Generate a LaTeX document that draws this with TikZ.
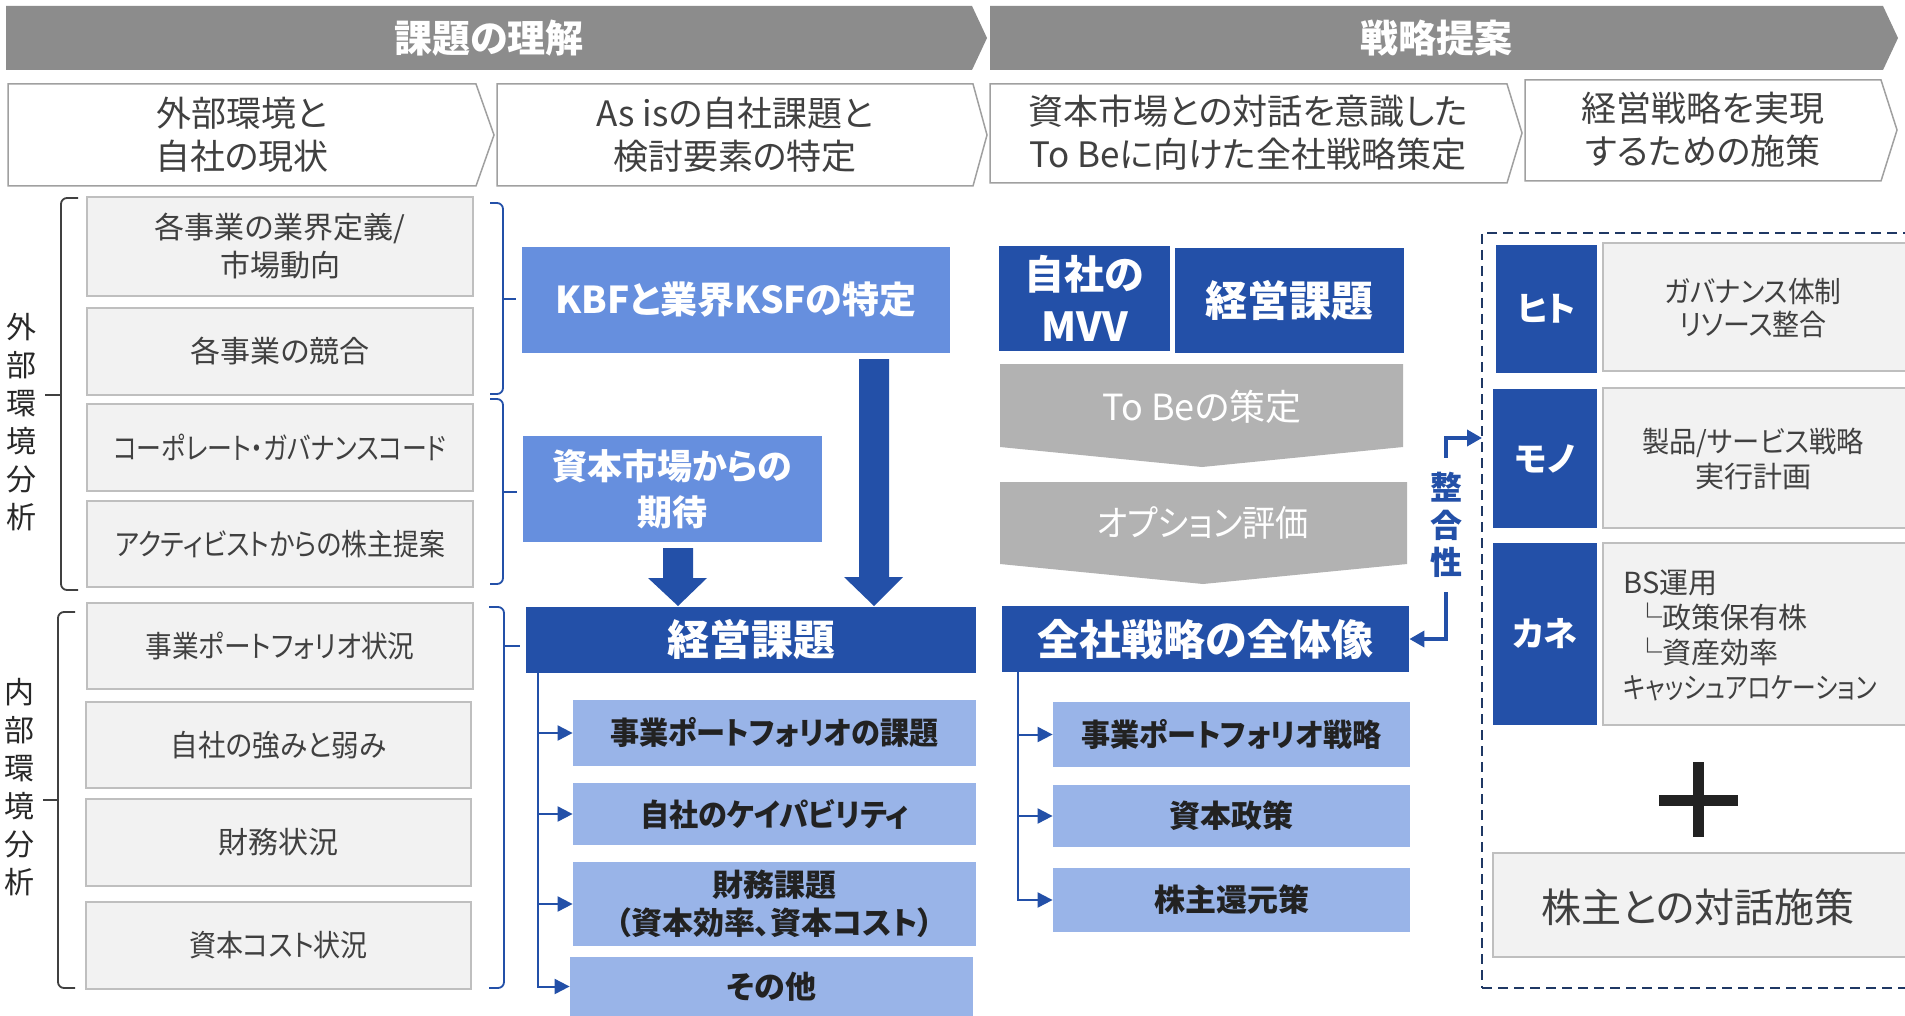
\documentclass[tikz,border=0pt]{standalone}
\usepackage{fontspec}
\setmainfont{Noto Sans CJK JP}[RawFeature=+palt]
\usetikzlibrary{arrows.meta,fit,calc}
\definecolor{dblue}{RGB}{35,80,168}
\definecolor{mblue}{RGB}{102,143,222}
\definecolor{lblue}{RGB}{153,180,232}
\definecolor{bannergray}{RGB}{140,140,140}
\definecolor{chevgray}{RGB}{178,178,178}
\definecolor{chevline}{RGB}{160,160,160}
\definecolor{boxfill}{RGB}{242,242,242}
\definecolor{boxline}{RGB}{191,191,191}
\definecolor{txt}{RGB}{64,64,64}
\definecolor{labtxt}{RGB}{40,40,40}
\definecolor{darktxt}{RGB}{34,34,34}
\definecolor{navy}{RGB}{31,56,100}
\newcommand\sqz[2]{\scalebox{#1}[1]{#2}}
\begin{document}
\begin{tikzpicture}[x=0.5pt,y=-0.5pt,
  rect/.style args={#1/#2/#3/#4}{at={({(#1+#3)/2},{(#2+#4)/2})}, minimum width={(#3-#1)*0.5pt}, minimum height={(#4-#2)*0.5pt}},
  graybox/.style={draw=boxline, fill=boxfill, line width=0.75pt, text=txt, inner sep=0pt, align=center, font=\fontsize{15}{19}\selectfont},
  dbox/.style={fill=dblue, text=white, inner sep=0pt, align=center, font=\bfseries\fontsize{21}{26}\selectfont},
  mbox/.style={fill=mblue, text=white, inner sep=0pt, align=center, font=\bfseries\fontsize{18.5}{23}\selectfont},
  lbox/.style={fill=lblue, text=darktxt, inner sep=0pt, align=center, font=\bfseries\fontsize{15.5}{19}\selectfont},
  hdr/.style={text=txt, align=center, inner sep=0pt, font=\fontsize{17.5}{21.5}\selectfont},
  bantext/.style={text=white, inner sep=0pt, font=\bfseries\fontsize{19}{22}\selectfont},
  chev/.style={draw=chevline, fill=white, line width=0.75pt},
  chevtext/.style={text=white, inner sep=0pt, font=\fontsize{18}{22}\selectfont},
  vlabel/.style={text=labtxt, align=center, inner sep=0pt, font=\fontsize{15}{19}\selectfont},
  rtext/.style={text=txt, align=center, inner sep=0pt, font=\fontsize{14.5}{16.5}\selectfont},
  branch/.style={draw=dblue, line width=1pt, -{Triangle[length=7.5pt,width=7.5pt]}},
  elbow/.style={draw=dblue, line width=1.75pt, -{Triangle[length=7.5pt,width=8pt]}},
  brkgray/.style={draw=txt, line width=0.9pt, rounded corners=3pt},
  brkblue/.style={draw=dblue, line width=0.9pt, rounded corners=3pt},
]
\useasboundingbox (0,0) rectangle (1905,1016);
\clip (0,0) rectangle (1905,1016);
\fill[white] (0,0) rectangle (1905,1016);

% ---- top banners
\fill[bannergray] (6,6) -- (972,6) -- (987,38) -- (972,70) -- (6,70) -- cycle;
\node[bantext] (ban1) at (489,38) {課題の理解};
\fill[bannergray] (990,6) -- (1883,6) -- (1898,38) -- (1883,70) -- (990,70) -- cycle;
\node[bantext] (ban2) at (1436,38) {戦略提案};

% ---- step headers
\draw[chev] (8,84) -- (476,84) -- (494,135) -- (476,186) -- (8,186) -- cycle;
\node[hdr] (h1) at (242,135) {外部環境と\\自社の現状};
\draw[chev] (497,84) -- (973,84) -- (987,135) -- (973,186) -- (497,186) -- cycle;
\node[hdr] (h2) at (735,135) {As isの自社課題と\\検討要素の特定};
\draw[chev] (990,84) -- (1507,84) -- (1522,133) -- (1507,183) -- (990,183) -- cycle;
\node[hdr] (h3) at (1248,133) {資本市場との対話を意識した\\To Beに向けた全社戦略策定};
\draw[chev] (1525,80) -- (1881,80) -- (1897,130) -- (1881,181) -- (1525,181) -- cycle;
\node[hdr] (h4) at (1703,130) {経営戦略を実現\\するための施策};

% ---- left column
\draw[brkgray] (78,198) -- (61,198) -- (61,590) -- (78,590);
\draw[draw=txt, line width=0.9pt] (45,395) -- (61,395);
\node[vlabel] (ext) at (21,422) {外\\部\\環\\境\\分\\析};
\draw[brkgray] (75,612) -- (58,612) -- (58,988) -- (75,988);
\draw[draw=txt, line width=0.9pt] (43,800) -- (58,800);
\node[vlabel] (int) at (19,787) {内\\部\\環\\境\\分\\析};

\node[graybox, rect=87/197/473/296] (g1) {各事業の業界定義/\\市場動向};
\node[graybox, rect=87/308/473/395] (g2) {各事業の競合};
\node[graybox, rect=87/404/473/491] (g3) {\sqz{0.83}{コーポレート・ガバナンスコード}};
\node[graybox, rect=87/501/473/587] (g4) {\sqz{0.86}{アクティビストからの株主提案}};
\node[graybox, rect=87/603/473/689] (g5) {\sqz{0.89}{事業ポートフォリオ状況}};
\node[graybox, rect=86/702/471/788] (g6) {\sqz{0.92}{自社の強みと弱み}};
\node[graybox, rect=86/799/471/886] (g7) {財務状況};
\node[graybox, rect=86/902/471/989] (g8) {\sqz{0.9}{資本コスト状況}};

% blue brackets
\draw[brkblue] (490,203) -- (503,203) -- (503,394) -- (490,394);
\draw[draw=dblue, line width=0.9pt] (503,299) -- (516,299);
\draw[brkblue] (490,399) -- (503,399) -- (503,584) -- (490,584);
\draw[draw=dblue, line width=0.9pt] (503,492) -- (517,492);
\draw[brkblue] (489,607) -- (504,607) -- (504,988) -- (489,988);
\draw[draw=dblue, line width=0.9pt] (504,646) -- (520,646);

% ---- middle column
\node[mbox, rect=522/247/950/353] (kbf) {KBFと業界KSFの特定};
\node[mbox, rect=523/436/822/542, font=\bfseries\fontsize{17.5}{23}\selectfont] (exp) {資本市場からの\\期待};
\fill[dblue] (663,548) -- (693,548) -- (693,578) -- (707,578) -- (678,606) -- (648,578) -- (663,578) -- cycle;
\fill[dblue] (859,359) -- (889,359) -- (889,577) -- (903,577) -- (874,606) -- (844,577) -- (859,577) -- cycle;
\node[dbox, rect=526/607/976/673] (kk1) {経営課題};
\node[lbox, rect=573/700/976/766] (b1) {\sqz{0.94}{事業ポートフォリオの課題}};
\node[lbox, rect=573/783/976/845] (b2) {\sqz{0.94}{自社のケイパビリティ}};
\node[lbox, rect=573/862/976/946] (b3) {財務課題\\（資本効率、資本コスト）};
\node[lbox, rect=570/957/973/1016] (b4) {その他};
\foreach \t in {b1,b2,b3,b4}
  \draw[branch] ([xshift=6pt]kk1.south west) |- (\t.west);

% ---- strategy column
\node[dbox, rect=999/246/1170/351, font=\bfseries\fontsize{20}{26}\selectfont] (mvv) {自社の\\MVV};
\node[dbox, rect=1175/248/1404/353] (kk2) {経営課題};
\fill[chevgray] (1000,364) -- (1403,364) -- (1403,447) -- (1202,467) -- (1000,447) -- cycle;
\node[chevtext] (tobe) at (1202,407) {To Beの策定};
\fill[chevgray] (1000,482) -- (1407,482) -- (1407,564) -- (1203,584) -- (1000,564) -- cycle;
\node[chevtext] (opt) at (1203,523) {\sqz{0.92}{オプション評価}};
\node[dbox, rect=1002/606/1409/672] (zen) {全社戦略の全体像};
\node[lbox, rect=1053/702/1410/767] (c1) {\sqz{0.94}{事業ポートフォリオ戦略}};
\node[lbox, rect=1053/785/1410/847] (c2) {資本政策};
\node[lbox, rect=1053/868/1410/932] (c3) {株主還元策};
\foreach \t in {c1,c2,c3}
  \draw[branch] ([xshift=8pt]zen.south west) |- (\t.west);

\node[text=dblue, align=center, inner sep=0pt, font=\bfseries\fontsize{16}{18.75}\selectfont] (sei) at (1446,525) {整\\合\\性};

% ---- measures column
\node[draw=navy, line width=1pt, dash pattern=on 5pt off 3pt, inner sep=0pt, fit={(1482,233) (1920,988)}] (grp) {};
\coordinate (grpin) at (1482,438);
\draw[elbow] ([yshift=7pt]sei.north) |- (grpin);
\draw[elbow] ([yshift=-7pt]sei.south) |- (zen.east);

\node[dbox, rect=1496/245/1597/373, font=\bfseries\fontsize{17}{20}\selectfont] (hito) {ヒト};
\node[graybox, rect=1603/243/1912/371] (r1) {};
\node[rtext] (r1t) at (1753,308) {\sqz{0.92}{ガバナンス体制}\\\sqz{0.93}{リソース整合}};
\node[dbox, rect=1493/389/1597/528, font=\bfseries\fontsize{17}{20}\selectfont] (mono) {モノ};
\node[graybox, rect=1603/388/1912/528] (r2) {};
\node[rtext, font=\fontsize{14.5}{17.5}\selectfont] (r2t) at (1753,459) {\sqz{0.94}{製品/サービス戦略}\\実行計画};
\node[dbox, rect=1493/543/1597/725, font=\bfseries\fontsize{17}{20}\selectfont] (kane) {カネ};
\node[graybox, rect=1603/543/1912/725] (r3) {};
\node[rtext, anchor=west, align=left, font=\fontsize{14.5}{17.5}\selectfont] (r3t) at (1623,635.5) {BS運用\\\hspace{5pt}└政策保有株\\\hspace{5pt}└資産効率\\\sqz{0.82}{キャッシュアロケーション}};

\fill[darktxt] (1659,795) rectangle (1738,806);
\fill[darktxt] (1693,762) rectangle (1704,837);
\node[graybox, rect=1493/853/1912/957] (dlg) {};
\node[text=txt, inner sep=0pt, font=\fontsize{20}{24}\selectfont] (dlgt) at (1698,907) {株主との対話施策};
\end{tikzpicture}
\end{document}
